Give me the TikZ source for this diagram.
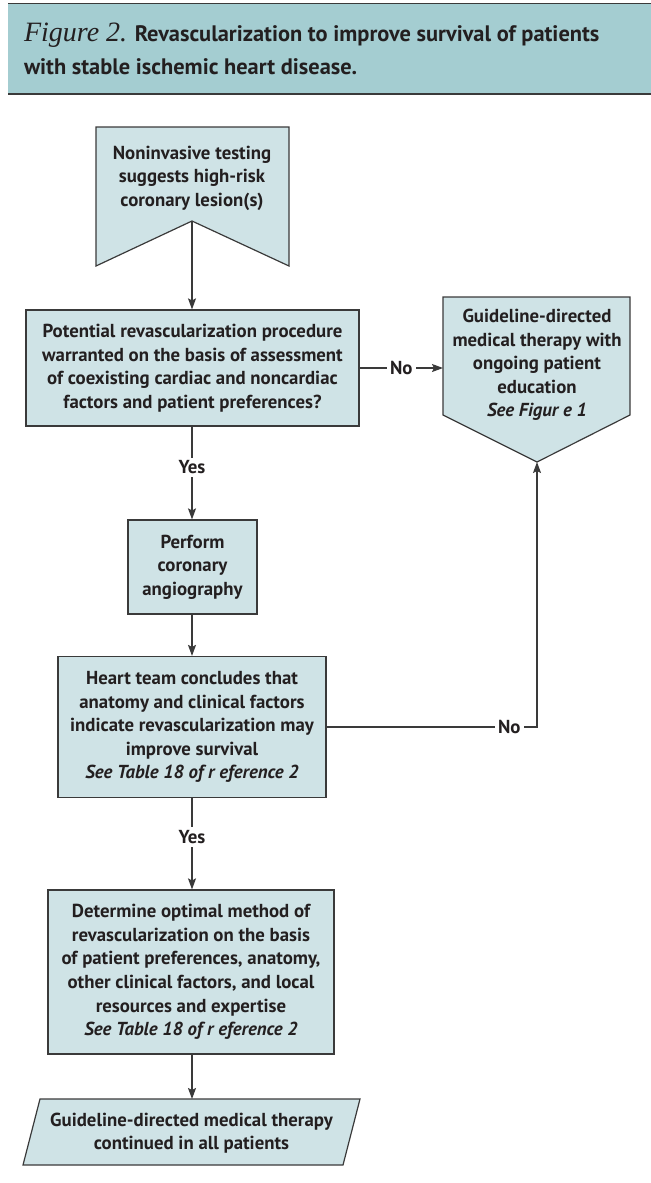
\documentclass[tikz,border=0pt]{standalone}
\usepackage{fontspec}
\setsansfont{PT Sans}
\newfontfamily\figserif{Liberation Serif}
\usetikzlibrary{arrows.meta,positioning}
\definecolor{boxfill}{HTML}{CFE3E6}
\definecolor{headfill}{HTML}{A4CDD1}
\definecolor{linegray}{HTML}{3A3A3A}
\definecolor{inkgray}{HTML}{231F20}
\tikzset{
  txt/.style={align=center, text=inkgray, font=\sffamily\bfseries\fontsize{9.4}{11.8}\selectfont},
  box/.style={txt, draw=linegray, fill=boxfill, line width=0.6pt, inner sep=0pt},
  shp/.style={draw=linegray, fill=boxfill, line width=0.6pt},
  lbl/.style={txt, fill=white, inner sep=1.6pt},
  arr/.style={draw=linegray, line width=0.6pt, -{Stealth[length=5.5pt,width=4pt,inset=1pt]}}
}
\begin{document}
\begin{tikzpicture}[x=0.5pt,y=-0.5pt]
\useasboundingbox (0,0) rectangle (651,1183);
% header band
\fill[headfill] (8,3) rectangle (651,94);
\draw[linegray, line width=0.5pt] (8,3) -- (651,3);
\draw[linegray, line width=1.1pt] (8,94) -- (651,94);
\node[anchor=west, align=left, text=inkgray, font=\sffamily\bfseries\fontsize{11.2}{16.5}\selectfont] (title) at (17,49)
  {{\mdseries\figserif\itshape\fontsize{14}{16.5}\selectfont Figure 2.} Revascularization to improve survival of patients\\with stable ischemic heart disease.};
% start banner
\draw[shp] (96,127) -- (289,127) -- (289,266) -- (192,221) -- (96,266) -- cycle;
\node[txt] (testing) at (192,178) {Noninvasive testing\\suggests high-risk\\coronary lesion(s)};
\coordinate (testtip) at (192,221);
% decision
\node[box, minimum width=166.5pt, minimum height=58pt] (revasc) at (192.5,368)
  {Potential revascularization procedure\\warranted on the basis of assessment\\of coexisting cardiac and noncardiac\\factors and patient preferences?};
% right pentagon
\draw[shp] (443,297) -- (630,297) -- (630,415) -- (537,462) -- (443,415) -- cycle;
\node[txt] (gdmt) at (537,365) {Guideline-directed\\medical therapy with\\ongoing patient\\education\\\textit{See Figur e 1}};
\coordinate (gdmtleft) at (443,368);
\coordinate (gdmttip) at (537,462);
% angiography
\node[box, minimum width=64.5pt, minimum height=47pt] (perform) at (192.5,567)
  {Perform\\coronary\\angiography};
% heart team
\node[box, minimum width=134pt, minimum height=70.5pt] (heart) at (192,727)
  {Heart team concludes that\\anatomy and clinical factors\\indicate revascularization may\\improve survival\\\textit{See Table 18 of r eference 2}};
% method
\node[box, minimum width=143pt, minimum height=82pt] (method) at (191,972)
  {Determine optimal method of\\revascularization on the basis\\of patient preferences, anatomy,\\other clinical factors, and local\\resources and expertise\\\textit{See Table 18 of r eference 2}};
% final parallelogram
\draw[shp] (40,1099) -- (360,1099) -- (343,1165) -- (23,1165) -- cycle;
\node[txt] (continued) at (191.5,1133) {Guideline-directed medical therapy\\continued in all patients};
\coordinate (contop) at (192,1099);
% connectors
\draw[arr] (testtip) -- (testtip |- revasc.north);
\draw[arr] (revasc.east) -- node[lbl]{No} (gdmtleft);
\draw[arr] (revasc.south -| testtip) -- node[lbl, pos=0.44]{Yes} (perform.north -| testtip);
\draw[arr] (perform.south -| testtip) -- (heart.north -| testtip);
\draw[arr] (heart.east) -| node[lbl, pos=0.434]{No} (gdmttip);
\draw[arr] (heart.south -| testtip) -- node[lbl, pos=0.43]{Yes} (method.north -| testtip);
\draw[arr] (method.south -| testtip) -- (contop);
\end{tikzpicture}
\end{document}
